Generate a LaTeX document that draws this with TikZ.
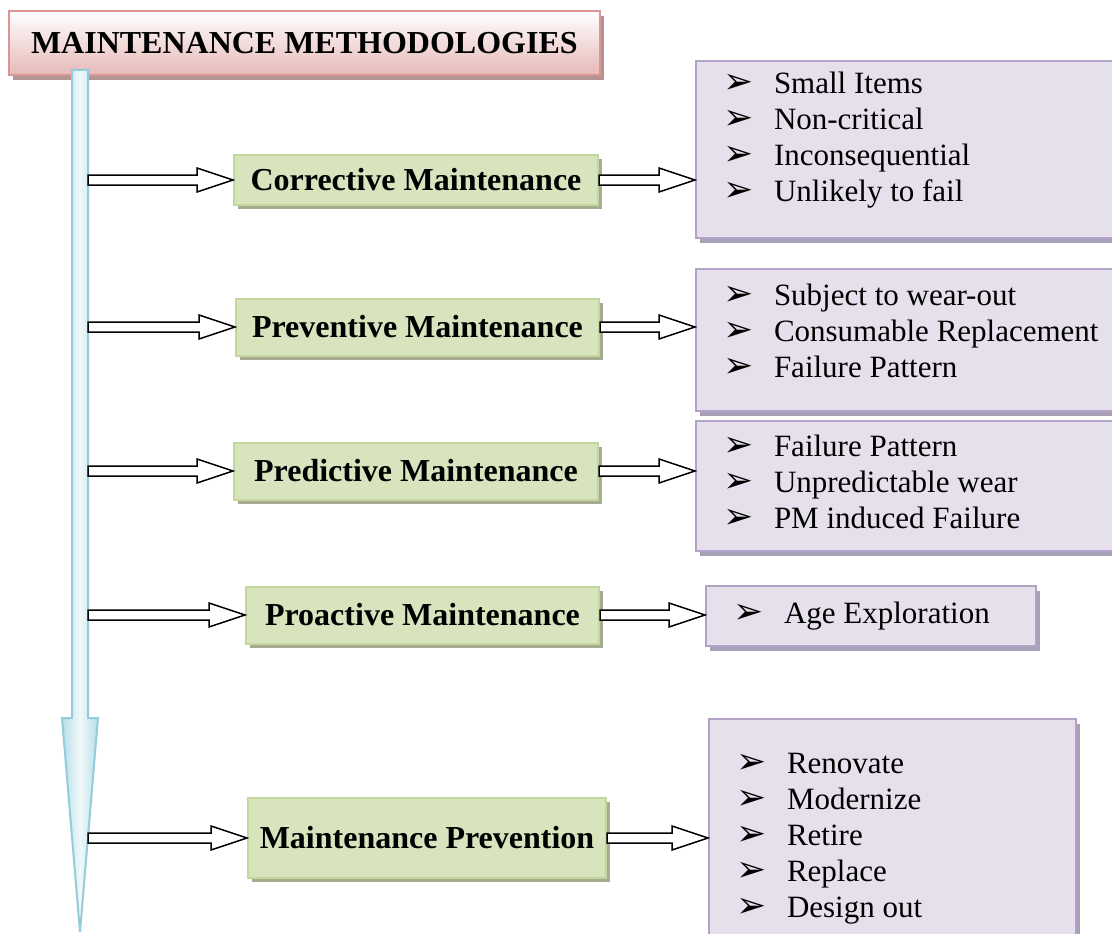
\documentclass[tikz,border=0pt]{standalone}
\usepackage{fontspec}
\setmainfont{Liberation Serif}
\newfontfamily\dejavu{DejaVu Sans}
\usetikzlibrary{calc,shadows}
\definecolor{pinkline}{HTML}{D99694}
\definecolor{pinkfill}{HTML}{E6B9B8}
\definecolor{pinkshade}{HTML}{B39393}
\definecolor{greenline}{HTML}{C3D69B}
\definecolor{greenfill}{HTML}{D7E4BD}
\definecolor{greenshade}{HTML}{A7AB90}
\definecolor{lavline}{HTML}{B3A2C7}
\definecolor{lavfill}{HTML}{E5E0EC}
\definecolor{lavshade}{HTML}{A8A0B4}
\definecolor{spineline}{HTML}{93CDDD}
\definecolor{spinefill}{HTML}{B7DEE8}
\tikzset{
  titlebox/.style={draw=pinkline,line width=2pt,top color=white,bottom color=pinkfill,
    drop shadow={shadow xshift=4pt,shadow yshift=-5pt,fill=pinkshade,opacity=1},
    inner xsep=22pt,minimum height=64pt,font=\fontsize{32}{36}\selectfont\bfseries},
  methodbox/.style={draw=greenline,line width=2pt,fill=greenfill,
    drop shadow={shadow xshift=4pt,shadow yshift=-4pt,fill=greenshade,opacity=1},
    inner sep=0pt,font=\fontsize{32}{36}\selectfont\bfseries},
  listbox/.style={draw=lavline,line width=2pt,fill=lavfill,
    drop shadow={shadow xshift=4pt,shadow yshift=-5pt,fill=lavshade,opacity=1},
    inner xsep=27pt,inner ysep=0pt,font=\fontsize{31}{36}\selectfont},
  hollowarrow/.style={draw=black,line width=1.5pt,fill=white,line join=miter},
  spinestyle/.style={draw=spineline,line width=2pt,left color=spinefill,right color=spinefill,middle color=white!80!spinefill}
}
\newcommand{\bul}{\makebox[51pt][l]{\smash{\dejavu\fontsize{36}{36}\selectfont ➢}}}
% box height, text width, top gap, lines
\newcommand{\bulletlist}[4]{\parbox[c][#1][t]{#2}{\vspace*{#3}\raggedright #4}}
\newcommand{\fatarrow}[2]{\draw[hollowarrow] let \p1=(#1), \p2=(#2) in
  (\x1,\y1+5pt) -- (\x2-36pt,\y1+5pt) -- (\x2-36pt,\y1+12pt) -- (\x2,\y1)
  -- (\x2-36pt,\y1-12pt) -- (\x2-36pt,\y1-5pt) -- (\x1,\y1-5pt) -- cycle;}
\begin{document}
\begin{tikzpicture}[x=1pt,y=-1pt]
  \useasboundingbox (0,0) rectangle (1112,934);
  \node[titlebox,anchor=north west](title)at(8,10){MAINTENANCE METHODOLOGIES};
  % spine
  \draw[spinestyle](72,70)--(88,70)--(88,718)--(98,718)--(80,932)--(62,718)--(72,718)--cycle;
  \coordinate(spine)at(88,0);
  % methods
  \node[methodbox,anchor=west,minimum width=364pt,minimum height=50pt](m1)at(233,180){Corrective Maintenance};
  \node[methodbox,anchor=west,minimum width=363pt,minimum height=57pt](m2)at(235,327){Preventive Maintenance};
  \node[methodbox,anchor=west,minimum width=364pt,minimum height=57pt](m3)at(233,471){Predictive Maintenance};
  \node[methodbox,anchor=west,minimum width=353pt,minimum height=57pt](m4)at(245,615){Proactive Maintenance};
  \node[methodbox,anchor=west,minimum width=358pt,minimum height=80pt](m5)at(247,838){Maintenance Prevention};
  % lists
  \node[listbox,anchor=north west](l1)at(695,60)
    {\bulletlist{177pt}{390pt}{11pt}{\bul Small Items\\\bul Non-critical\\\bul Inconsequential\\\bul Unlikely to fail}};
  \node[listbox,anchor=north west](l2)at(695,268)
    {\bulletlist{142pt}{390pt}{15pt}{\bul Subject to wear-out\\\bul Consumable Replacement\\\bul Failure Pattern}};
  \node[listbox,anchor=north west](l3)at(695,420)
    {\bulletlist{130pt}{390pt}{14pt}{\bul Failure Pattern\\\bul Unpredictable wear\\\bul PM induced Failure}};
  \node[listbox,anchor=north west](l4)at(705,585)
    {\bulletlist{60pt}{276pt}{16pt}{\bul Age Exploration}};
  \node[listbox,anchor=north west](l5)at(708,718)
    {\bulletlist{236pt}{313pt}{34pt}{\bul Renovate\\\bul Modernize\\\bul Retire\\\bul Replace\\\bul Design out}};
  % arrows
  \foreach \m/\l in{m1/l1,m2/l2,m3/l3,m4/l4,m5/l5}{
    \fatarrow{\m.west -| spine}{\m.west}
    \fatarrow{\m.east}{\l.west |- \m.east}
  }
\end{tikzpicture}
\end{document}
